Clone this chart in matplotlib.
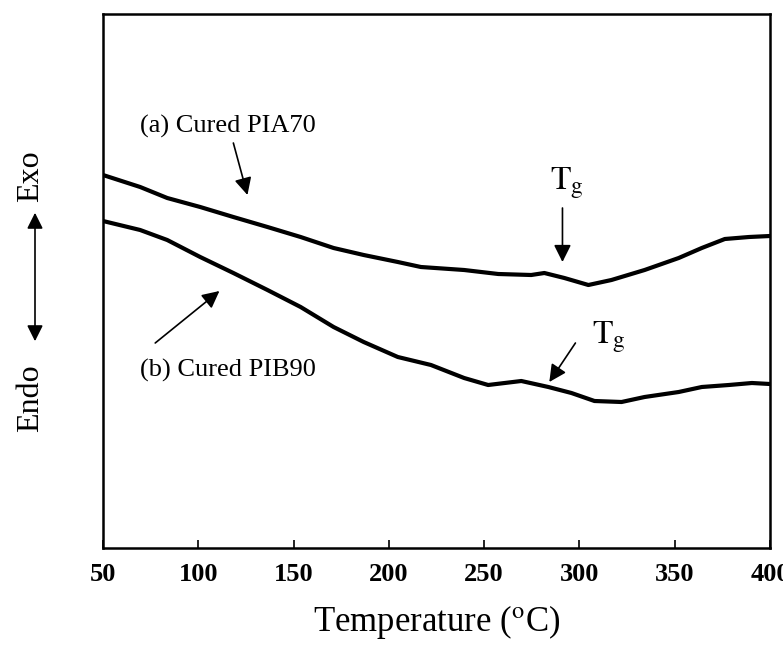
import matplotlib
matplotlib.use("Agg")
import matplotlib.pyplot as plt

# DSC traces (arbitrary heat-flow units, exo up)
temp_a = [50, 69.5, 83.7, 101, 118.4, 136.3, 153.7, 171, 186.8, 204.7, 216.8, 239.5,
          257.4, 274.7, 281.6, 292.1, 304.7, 316.8, 334.2, 352.1, 364.2, 376.3, 389, 400]
heat_a = [373, 361, 350, 341, 331, 321, 311, 300, 293, 286, 281, 278,
          274, 273, 275, 270, 263, 268, 278, 290, 300, 309, 311, 312]

temp_b = [50, 69.5, 83.7, 101, 118.4, 136.3, 153.7, 171, 186.8, 204.7, 222.1, 239.5,
          252.1, 269.5, 283.7, 295.8, 307.9, 322.1, 334.2, 352.1, 364.2, 378.4, 390.5, 400]
heat_b = [327, 318, 308, 291, 275, 258, 241, 221, 206, 191, 183, 170,
          163, 167, 161, 155, 147, 146, 151, 156, 161, 163, 165, 164]

xticks = [50, 100, 150, 200, 250, 300, 350, 400]

plt.rcParams["font.family"] = ["Liberation Serif", "DejaVu Serif"]
plt.rcParams["mathtext.fontset"] = "stix"

fig = plt.figure(figsize=(7.83, 6.45), dpi=100)
ax = fig.add_axes([103 / 783, 97 / 645, 667 / 783, 534 / 645])

ax.plot(temp_a, heat_a, color="black", lw=3.0, solid_joinstyle="round")
ax.plot(temp_b, heat_b, color="black", lw=3.0, solid_joinstyle="round")

ax.set_xlim(50, 400)
ax.set_ylim(0, 534)
ax.set_xticks(xticks)
ax.set_xticklabels([str(t) for t in xticks], fontsize=19, fontweight="bold")
ax.tick_params(axis="x", direction="in", length=6, width=1.2, pad=11)
ax.set_yticks([])
for sp in ax.spines.values():
    sp.set_linewidth(1.8)

ax.set_xlabel(r"Temperature ($^{\mathrm{o}}$C)", fontsize=25, labelpad=12)

arrow = dict(arrowstyle="-|>", color="black", lw=1.2, mutation_scale=26,
             shrinkA=0, shrinkB=0)

ax.text(69.5, 422, "(a) Cured PIA70", fontsize=19, ha="left", va="center")
ax.annotate("", xy=(125.8, 353), xytext=(118.4, 405), arrowprops=arrow)

ax.text(69.5, 178, "(b) Cured PIB90", fontsize=19, ha="left", va="center")
ax.annotate("", xy=(111.1, 257), xytext=(77.4, 205), arrowprops=arrow)

ax.text(293.7, 365, r"$\mathrm{T_g}$", fontsize=24, ha="center", va="center")
ax.annotate("", xy=(291.1, 286), xytext=(291.1, 340), arrowprops=arrow)

ax.text(315.3, 211, r"$\mathrm{T_g}$", fontsize=24, ha="center", va="center")
ax.annotate("", xy=(284.2, 166), xytext=(297.9, 205), arrowprops=arrow)

# exo / endo direction indicator on the left
fig.text(31 / 783, 1 - 176 / 645, "Exo", rotation=90, fontsize=23,
         ha="center", va="center")
fig.text(31 / 783, 1 - 398 / 645, "Endo", rotation=90, fontsize=23,
         ha="center", va="center")
fig.add_artist(matplotlib.patches.FancyArrowPatch(
    (35 / 783, 1 - 344 / 645), (35 / 783, 1 - 210 / 645),
    transform=fig.transFigure, arrowstyle="<|-|>", mutation_scale=24,
    color="black", lw=1.2))

fig.savefig("out.png", dpi=100)
